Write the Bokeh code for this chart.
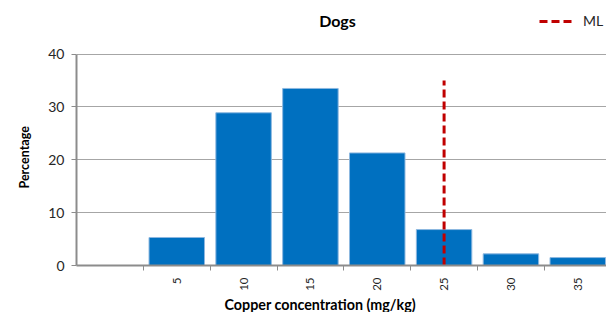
from bokeh.plotting import figure
from bokeh.models import FixedTicker, Range1d, Legend, LegendItem, Title, Label
from bokeh.embed import file_html
from bokeh.resources import INLINE
import math

# ---- data ----
categories = ["", "5", "10", "15", "20", "25", "30", "35"]
percentages = [0.0, 5.3, 28.9, 33.5, 21.3, 6.8, 2.2, 1.5]
ml_category = "25"
ml_value = 35
y_ticks = [0, 10, 20, 30, 40]

positions = list(range(len(categories)))
bar_x = [positions[i] for i in range(len(categories)) if categories[i] != ""]
bar_top = [percentages[i] for i in range(len(categories)) if categories[i] != ""]
ml_x = positions[categories.index(ml_category)]

FONT = "Lato"
TXT = "#262626"
AX = "#8C8C8C"

y_max = y_ticks[-1]
px_per_unit = (267 - 54) / y_max
top_border = 2
y_end = y_max + (54 - top_border) / px_per_unit

p = figure(width=606, height=312, output_backend="svg", toolbar_location=None,
           x_range=Range1d(-0.5, 7.43), y_range=Range1d(0, y_end),
           min_border_left=76, min_border_right=0, min_border_top=top_border,
           min_border_bottom=45)
p.outline_line_color = None
p.background_fill_color = "white"

p.vbar(x=bar_x, top=bar_top, width=0.83, fill_color="#0070C0",
       line_color="#8DB8E0", line_width=1)

ml = p.line(x=[ml_x, ml_x], y=[0, ml_value], line_color="#C00000", line_width=3,
            line_dash="8 4")

# x axis
xa = p.xaxis[0]
xa.ticker = FixedTicker(ticks=positions[1:],
                        minor_ticks=[x + 0.5 for x in positions])
xa.major_label_overrides = {pos: lab for pos, lab in zip(positions, categories)}
xa.major_tick_out = 0
xa.major_tick_in = 0
xa.minor_tick_out = 5
xa.minor_tick_in = 0
xa.minor_tick_line_color = AX
xa.axis_line_color = AX
xa.axis_line_width = 2
xa.major_label_orientation = math.pi / 2
xa.major_label_text_font = FONT
xa.major_label_text_font_size = "11.5px"
xa.major_label_text_color = TXT
xa.major_label_standoff = 7
p.xgrid.visible = False

# y axis
ya = p.yaxis[0]
ya.ticker = FixedTicker(ticks=y_ticks)
ya.bounds = (0, y_max)
ya.major_tick_out = 5
ya.major_tick_in = 0
ya.minor_tick_out = 0
ya.minor_tick_in = 0
ya.major_tick_line_color = AX
ya.axis_line_color = AX
ya.axis_line_width = 2
ya.major_label_text_font = FONT
ya.major_label_text_font_size = "14px"
ya.major_label_text_color = TXT
ya.major_label_standoff = 7
p.ygrid.grid_line_color = "#A6A6A6"
p.ygrid.grid_line_width = 1
p.ygrid.ticker = FixedTicker(ticks=y_ticks)

# y axis label as a title on the left
p.add_layout(Title(text="Percentage", align="left", offset=77,
                   text_font=FONT, text_font_size="12.5px", text_font_style="bold",
                   text_color="black", standoff=28), "left")

# chart title
p.add_layout(Label(x=261, y=245, x_units="screen", y_units="screen", text="Dogs",
                   text_align="center", text_baseline="middle", text_font=FONT,
                   text_font_size="16px", text_font_style="bold", text_color="black"))

# x axis label as a title below
p.add_layout(Title(text="Copper concentration (mg/kg)", align="left", offset=148,
                   text_font=FONT, text_font_size="14.3px", text_font_style="bold",
                   text_color="black", standoff=0), "below")

# legend
legend = Legend(items=[LegendItem(label="ML", renderers=[ml])],
                location=(463, 236), padding=0, margin=0, spacing=0,
                glyph_width=35, glyph_height=14, label_standoff=9,
                label_text_font=FONT, label_text_font_size="14px",
                label_text_color=TXT, border_line_alpha=0,
                background_fill_alpha=0)
p.add_layout(legend)

open("out.html", "w").write(file_html(p, INLINE))
